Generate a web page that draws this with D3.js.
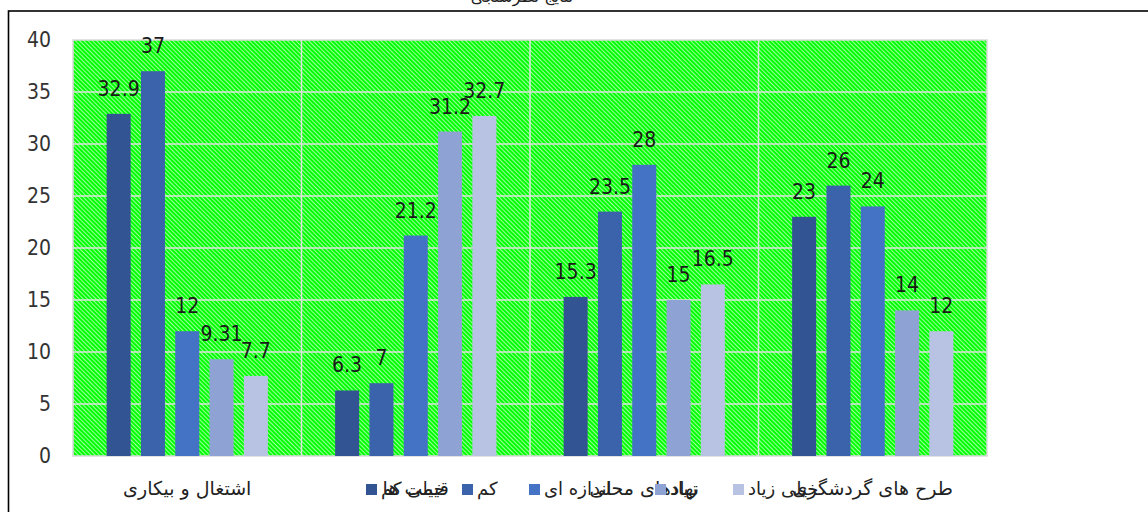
<!DOCTYPE html>
<html>
<head>
<meta charset="utf-8">
<script src="https://cdn.jsdelivr.net/npm/d3@7"></script>
<style>
    body { margin: 0; background: #fff; }
    svg { display: block; }
    .num { font-family: "DejaVu Sans Condensed", "DejaVu Sans", sans-serif; font-stretch: condensed; }
    .fa { font-family: "DejaVu Sans", sans-serif; }
</style>
</head>
<body>
<svg id="chart" width="1148" height="512"></svg>
<script>
    // categories (x axis) and series names (legend)
    let categories = ["اشتغال و بیکاری", "قیمت ها", "نهادهای محلی", "طرح های گردشگری"];
    let seriesNames = ["خیلی کم", "کم", "اندازه ای", "زیاد", "خیلی زیاد"];

    // one array per series, in category order
    let veryLow = [32.9, 6.3, 15.3, 23];
    let low = [37, 7, 23.5, 26];
    let medium = [12, 21.2, 28, 24];
    let high = [9.31, 31.2, 15, 14];
    let veryHigh = [7.7, 32.7, 16.5, 12];

    let yTicks = [0, 5, 10, 15, 20, 25, 30, 35, 40];
    let seriesColors = ["#335493", "#3b63ac", "#4472c4", "#8fa2d4", "#b8c3e3"];
    let titleText = "نتایج نظرسنجی";

    let allSeries = [veryLow, low, medium, high, veryHigh];

    let svg = d3.select("#chart");

    // outer frame, only partly in view
    svg.append("rect")
        .attr("x", 8.5)
        .attr("y", 11)
        .attr("width", 1300)
        .attr("height", 700)
        .attr("fill", "none")
        .attr("stroke", "#000")
        .attr("stroke-width", 1.6);

    // title, cut off by the top of the picture
    svg.append("text")
        .attr("class", "fa")
        .attr("x", 522)
        .attr("y", 2)
        .attr("text-anchor", "middle")
        .attr("font-size", 16)
        .attr("fill", "#222")
        .text(titleText);

    let plotLeft = 73, plotRight = 987, plotTop = 40, plotBottom = 456;

    let xScale = d3.scaleBand()
        .domain(categories)
        .range([plotLeft, plotRight])
        .padding(0);
    let sScale = d3.scaleBand()
        .domain(d3.range(seriesNames.length))
        .range([0, xScale.bandwidth()])
        .paddingInner(0.3)
        .paddingOuter(0.98);
    let yScale = d3.scaleLinear()
        .domain([0, 40])
        .range([plotBottom, plotTop]);

    // green hatched plot area
    let defs = svg.append("defs");
    let pat = defs.append("pattern")
        .attr("id", "hatch")
        .attr("patternUnits", "userSpaceOnUse")
        .attr("width", 3)
        .attr("height", 3)
        .attr("patternTransform", "rotate(-45)");
    pat.append("rect")
        .attr("width", 3)
        .attr("height", 3)
        .attr("fill", "#00ff00");
    pat.append("rect")
        .attr("width", 0.8)
        .attr("height", 3)
        .attr("fill", "#c8ffc8");

    svg.append("rect")
        .attr("x", plotLeft)
        .attr("y", plotTop)
        .attr("width", plotRight - plotLeft)
        .attr("height", plotBottom - plotTop)
        .attr("fill", "url(#hatch)")
        .attr("stroke", "#d9d9d9")
        .attr("stroke-width", 1.5);

    // gridlines
    svg.append("g")
        .selectAll("line")
        .data(yTicks.slice(1, -1))
        .enter().append("line")
        .attr("x1", plotLeft)
        .attr("x2", plotRight)
        .attr("y1", d => yScale(d))
        .attr("y2", d => yScale(d))
        .attr("stroke", "#e0e0e0")
        .attr("stroke-width", 1.5);

    svg.append("g")
        .selectAll("line")
        .data(categories.slice(1))
        .enter().append("line")
        .attr("x1", d => xScale(d))
        .attr("x2", d => xScale(d))
        .attr("y1", plotTop)
        .attr("y2", plotBottom)
        .attr("stroke", "#e0e0e0")
        .attr("stroke-width", 1.5);

    // y axis labels
    let yAxis = d3.axisLeft(yScale)
        .tickValues(yTicks)
        .tickSize(0)
        .tickPadding(0);
    let yG = svg.append("g")
        .attr("transform", "translate(51,0)")
        .call(yAxis);
    yG.select(".domain").remove();
    yG.selectAll("text")
        .attr("class", "num")
        .attr("font-size", 21)
        .attr("fill", "#333");

    // bars
    let barData = [];
    categories.forEach(function(c, ci) {
        allSeries.forEach(function(s, si) {
            barData.push({cat: c, series: si, value: s[ci]});
        });
    });

    svg.append("g")
        .selectAll("rect")
        .data(barData)
        .enter().append("rect")
        .attr("x", d => xScale(d.cat) + sScale(d.series))
        .attr("y", d => yScale(d.value))
        .attr("width", sScale.bandwidth())
        .attr("height", d => plotBottom - yScale(d.value))
        .attr("fill", d => seriesColors[d.series]);

    svg.append("g")
        .selectAll("text")
        .data(barData)
        .enter().append("text")
        .attr("class", "num")
        .attr("x", d => xScale(d.cat) + sScale(d.series) + sScale.bandwidth() / 2)
        .attr("y", d => yScale(d.value) - 18)
        .attr("text-anchor", "middle")
        .attr("font-size", 21)
        .attr("fill", "#1a1a1a")
        .text(d => d.value);

    // category labels
    svg.append("g")
        .selectAll("text")
        .data(categories)
        .enter().append("text")
        .attr("class", "fa")
        .attr("x", d => xScale(d) + xScale.bandwidth() / 2)
        .attr("y", 495)
        .attr("text-anchor", "middle")
        .attr("font-size", 19)
        .attr("fill", "#222")
        .text(d => d);

    // legend, sits on top of the category labels
    let legendX = [366, 462, 529, 655, 733];
    let legend = svg.append("g")
        .selectAll("g")
        .data(seriesNames)
        .enter().append("g")
        .attr("transform", (d, i) => "translate(" + legendX[i] + ",484)");
    legend.append("rect")
        .attr("width", 11)
        .attr("height", 11)
        .attr("fill", (d, i) => seriesColors[i]);
    legend.append("text")
        .attr("class", "fa")
        .attr("x", 15)
        .attr("y", 11)
        .attr("font-size", 18)
        .attr("fill", "#222")
        .text(d => d);
</script>
</body>
</html>
